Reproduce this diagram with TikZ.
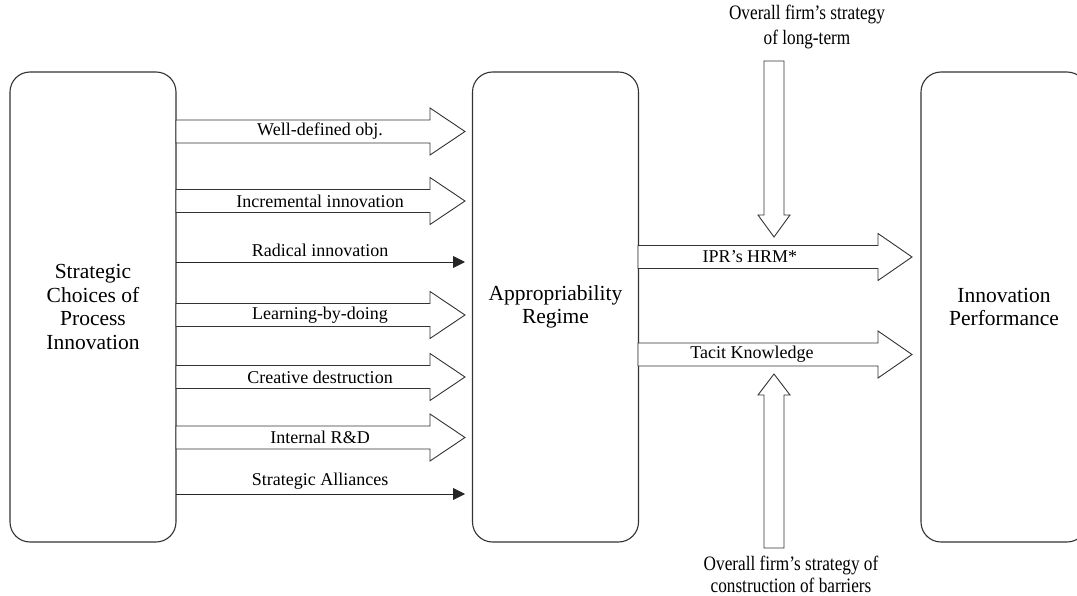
\documentclass[tikz,border=0pt]{standalone}
\usepackage{fontspec}
\setmainfont{Liberation Serif}
\newfontfamily\condfont[FakeStretch=0.84]{Liberation Serif}
\usetikzlibrary{arrows.meta}
\newcommand\hfat[4]{% start x, tip x, y, head length
  \draw[fat] (#1,#3-11.5) -- (#2-#4,#3-11.5) -- (#2-#4,#3-23.5) -- (#2,#3)
    -- (#2-#4,#3+23.5) -- (#2-#4,#3+11.5) -- (#1,#3+11.5) -- cycle;}
\begin{document}
\begin{tikzpicture}[x=1pt,y=-1pt,
  box/.style={draw=black!80, line width=1.1pt, rounded corners=20pt, minimum width=166pt,
    minimum height=470pt, inner sep=0pt, align=center, font=\fontsize{21.5}{23.5}\selectfont},
  fat/.style={draw=black!80, line width=0.9pt, fill=white, line join=miter},
  thinarrow/.style={draw=black!85, line width=0.9pt, -{Triangle[length=12pt,width=12pt]}},
  lab/.style={font=\fontsize{18}{20}\selectfont, inner sep=0pt},
  ext/.style={font=\condfont\fontsize{20.5}{25}\selectfont, align=center, inner sep=0pt}]
\clip (0,0) rectangle (1077,596);
\useasboundingbox (0,0) rectangle (1077,596);
% boxes
\node[box] (L) at (93,307) {Strategic\\Choices of\\Process\\Innovation};
\node[box] (M) at (555.5,307) {Appropriability\\Regime};
\node[box] (R) at (1004,307) {Innovation\\Performance};
% left arrows
\hfat{176}{465}{131.5}{35}
\node[lab] (a1) at (320,131.5) {Well-defined obj.};
\hfat{176}{465}{201}{35}
\node[lab] (a2) at (320,201) {Incremental innovation};
\coordinate (s3) at (176,262); \coordinate (e3) at (465,262);
\draw[thinarrow] (s3) -- (e3);
\node[lab] (a3) at (320,250) {Radical innovation};
\hfat{176}{465}{315}{35}
\node[lab] (a4) at (320,315) {Learning-by-doing};
\hfat{176}{465}{377}{35}
\node[lab] (a5) at (320,377) {Creative destruction};
\hfat{176}{465}{437.5}{35}
\node[lab] (a6) at (320,437.5) {Internal R\&D};
\coordinate (s7) at (176,494); \coordinate (e7) at (465,494);
\draw[thinarrow] (s7) -- (e7);
\node[lab] (a7) at (320,481) {Strategic Alliances};
% right arrows
\hfat{638}{912}{257}{34}
\node[lab] (b1) at (750,257) {IPR’s HRM*};
\hfat{638}{912}{354.5}{34}
\node[lab] (b2) at (752,354.5) {Tacit Knowledge};
% vertical arrows
\draw[fat] (764,61) -- (764,215) -- (758,215) -- (774,237) -- (790,215) -- (784,215) -- (784,61) -- cycle;
\draw[fat] (764,548) -- (764,395) -- (758,395) -- (774,374) -- (790,395) -- (784,395) -- (784,548) -- cycle;
\node[ext] (top) at (807,27) {Overall firm’s strategy\\of long-term};
\node[ext, font=\condfont\fontsize{20.5}{22}\selectfont] (bot) at (791,574) {Overall firm’s strategy of\\construction of barriers};
\end{tikzpicture}
\end{document}
